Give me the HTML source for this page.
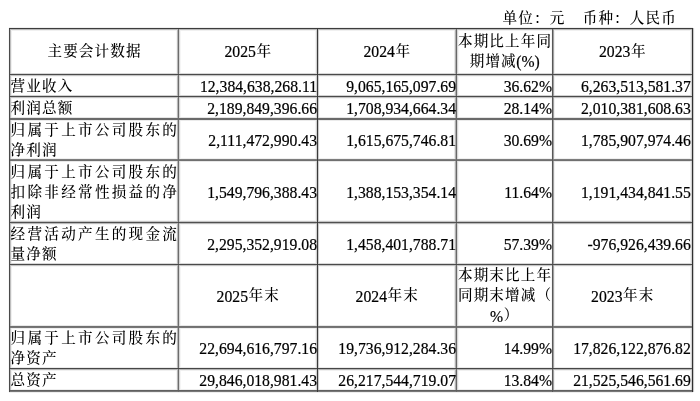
<!DOCTYPE html>
<html lang="zh-CN"><head><meta charset="utf-8"><title>主要会计数据</title>
<style>
html,body{margin:0;padding:0;background:#fff;}
body{width:700px;height:401px;overflow:hidden;position:relative;
 font-family:"Liberation Serif","Noto Serif CJK SC",serif;font-size:15.7px;color:#000;font-weight:500;}
.c{position:absolute;display:flex;flex-direction:column;justify-content:center;}
.c div{line-height:20px;white-space:nowrap;}
.l div{text-align:left;}
.l div.j{text-align:justify;text-align-last:justify;}
.r div{text-align:right;}
.m div{text-align:center;}
.lines i{position:absolute;display:block;mix-blend-mode:darken;}
.k{position:relative;top:-1.2px;font-size:14.6px;letter-spacing:1.1px;padding-left:0.55px;margin-right:-0.55px;}
.n{font-size:15.7px;-webkit-text-stroke:0.2px #000;}
.unit{position:absolute;top:9.6px;left:502px;line-height:20px;white-space:nowrap;}
</style></head><body>
<div class="unit"><span class="k">单位：元</span><span style="display:inline-block;width:17.4px"></span><span class="k">币种：人民币</span></div>
<div class="lines"><i style="left:9px;top:27px;width:684px;height:1px;background:#f0f0f0"></i><i style="left:9px;top:28px;width:684px;height:1px;background:#3c3c3c"></i><i style="left:9px;top:29px;width:684px;height:1px;background:#b8b8b8"></i><i style="left:9px;top:30px;width:684px;height:1px;background:#f0f0f0"></i><i style="left:9px;top:73px;width:684px;height:1px;background:#d8d8d8"></i><i style="left:9px;top:74px;width:684px;height:1px;background:#4a4a4a"></i><i style="left:9px;top:75px;width:684px;height:1px;background:#c4c4c4"></i><i style="left:9px;top:76px;width:684px;height:1px;background:#f5f5f5"></i><i style="left:9px;top:95px;width:684px;height:1px;background:#d2d2d2"></i><i style="left:9px;top:96px;width:684px;height:1px;background:#4a4a4a"></i><i style="left:9px;top:97px;width:684px;height:1px;background:#c4c4c4"></i><i style="left:9px;top:98px;width:684px;height:1px;background:#f5f5f5"></i><i style="left:9px;top:117px;width:684px;height:1px;background:#e6e6e6"></i><i style="left:9px;top:118px;width:684px;height:1px;background:#6a6a6a"></i><i style="left:9px;top:119px;width:684px;height:1px;background:#6a6a6a"></i><i style="left:9px;top:120px;width:684px;height:1px;background:#ebebeb"></i><i style="left:9px;top:158px;width:684px;height:1px;background:#f0f0f0"></i><i style="left:9px;top:159px;width:684px;height:1px;background:#7d7d7d"></i><i style="left:9px;top:160px;width:684px;height:1px;background:#707070"></i><i style="left:9px;top:161px;width:684px;height:1px;background:#e8e8e8"></i><i style="left:9px;top:220px;width:684px;height:1px;background:#f4f4f4"></i><i style="left:9px;top:221px;width:684px;height:1px;background:#c3c3c3"></i><i style="left:9px;top:222px;width:684px;height:1px;background:#505050"></i><i style="left:9px;top:223px;width:684px;height:1px;background:#b9b9b9"></i><i style="left:9px;top:224px;width:684px;height:1px;background:#f5f5f5"></i><i style="left:9px;top:263px;width:684px;height:1px;background:#d8d8d8"></i><i style="left:9px;top:264px;width:684px;height:1px;background:#4a4a4a"></i><i style="left:9px;top:265px;width:684px;height:1px;background:#c4c4c4"></i><i style="left:9px;top:266px;width:684px;height:1px;background:#f5f5f5"></i><i style="left:9px;top:325px;width:684px;height:1px;background:#e8e8e8"></i><i style="left:9px;top:326px;width:684px;height:1px;background:#707070"></i><i style="left:9px;top:327px;width:684px;height:1px;background:#767676"></i><i style="left:9px;top:328px;width:684px;height:1px;background:#eeeeee"></i><i style="left:9px;top:367px;width:684px;height:1px;background:#ebebeb"></i><i style="left:9px;top:368px;width:684px;height:1px;background:#464646"></i><i style="left:9px;top:369px;width:684px;height:1px;background:#b4b4b4"></i><i style="left:9px;top:370px;width:684px;height:1px;background:#f0f0f0"></i><i style="left:9px;top:389px;width:684px;height:1px;background:#eeeeee"></i><i style="left:9px;top:390px;width:684px;height:1px;background:#606060"></i><i style="left:9px;top:391px;width:684px;height:1px;background:#787878"></i><i style="left:9px;top:392px;width:684px;height:1px;background:#eeeeee"></i><i style="left:8px;top:28px;width:1px;height:364px;background:#f8f8f8"></i><i style="left:9px;top:28px;width:1px;height:364px;background:#4a4a4a"></i><i style="left:10px;top:28px;width:1px;height:364px;background:#bebebe"></i><i style="left:11px;top:28px;width:1px;height:364px;background:#f0f0f0"></i><i style="left:176px;top:28px;width:1px;height:364px;background:#f5f5f5"></i><i style="left:177px;top:28px;width:1px;height:364px;background:#b8b8b8"></i><i style="left:178px;top:28px;width:1px;height:364px;background:#6c6c6c"></i><i style="left:179px;top:28px;width:1px;height:364px;background:#d8d8d8"></i><i style="left:180px;top:28px;width:1px;height:364px;background:#f5f5f5"></i><i style="left:315px;top:28px;width:1px;height:364px;background:#f4f4f4"></i><i style="left:316px;top:28px;width:1px;height:364px;background:#d2d2d2"></i><i style="left:317px;top:28px;width:1px;height:364px;background:#3a3a3a"></i><i style="left:318px;top:28px;width:1px;height:364px;background:#cdcdcd"></i><i style="left:319px;top:28px;width:1px;height:364px;background:#fcfcfc"></i><i style="left:454px;top:28px;width:1px;height:364px;background:#e8e8e8"></i><i style="left:455px;top:28px;width:1px;height:364px;background:#b0b0b0"></i><i style="left:456px;top:28px;width:1px;height:364px;background:#686868"></i><i style="left:457px;top:28px;width:1px;height:364px;background:#d8d8d8"></i><i style="left:458px;top:28px;width:1px;height:364px;background:#f5f5f5"></i><i style="left:551px;top:28px;width:1px;height:364px;background:#f5f5f5"></i><i style="left:552px;top:28px;width:1px;height:364px;background:#585858"></i><i style="left:553px;top:28px;width:1px;height:364px;background:#a0a0a0"></i><i style="left:554px;top:28px;width:1px;height:364px;background:#f0f0f0"></i><i style="left:690px;top:28px;width:1px;height:364px;background:#f0f0f0"></i><i style="left:691px;top:28px;width:1px;height:364px;background:#d2d2d2"></i><i style="left:692px;top:28px;width:1px;height:364px;background:#303030"></i><i style="left:693px;top:28px;width:1px;height:364px;background:#c8c8c8"></i><i style="left:694px;top:28px;width:1px;height:364px;background:#fafafa"></i></div>
<div class="c m" style="left:10px;top:29.9px;width:168px;height:45px"><div><span class="k">主要会计数据</span></div></div>
<div class="c m" style="left:179px;top:29.9px;width:138px;height:45px"><div><span class="n">2025</span><span class="k">年</span></div></div>
<div class="c m" style="left:318px;top:29.9px;width:138px;height:45px"><div><span class="n">2024</span><span class="k">年</span></div></div>
<div class="c m" style="left:457px;top:29.9px;width:95px;height:45px"><div><span class="k">本期比上年同</span></div><div><span class="k">期增减</span><span class="n">(%)</span></div></div>
<div class="c m" style="left:553px;top:29.9px;width:139px;height:45px"><div><span class="n">2023</span><span class="k">年</span></div></div>
<div class="c l" style="left:10px;top:76.2px;width:167.5px;height:21px"><div><span class="k">营业收入</span></div></div>
<div class="c r" style="left:179px;top:76.2px;width:138px;height:21px"><div><span class="n">12,384,638,268.11</span></div></div>
<div class="c r" style="left:318px;top:76.2px;width:138px;height:21px"><div><span class="n">9,065,165,097.69</span></div></div>
<div class="c r" style="left:457px;top:76.2px;width:95px;height:21px"><div><span class="n">36.62%</span></div></div>
<div class="c r" style="left:553px;top:76.2px;width:137.8px;height:21px"><div><span class="n">6,263,513,581.37</span></div></div>
<div class="c l" style="left:10px;top:98.2px;width:167.5px;height:21.5px"><div><span class="k">利润总额</span></div></div>
<div class="c r" style="left:179px;top:98.2px;width:138px;height:21.5px"><div><span class="n">2,189,849,396.66</span></div></div>
<div class="c r" style="left:318px;top:98.2px;width:138px;height:21.5px"><div><span class="n">1,708,934,664.34</span></div></div>
<div class="c r" style="left:457px;top:98.2px;width:95px;height:21.5px"><div><span class="n">28.14%</span></div></div>
<div class="c r" style="left:553px;top:98.2px;width:137.8px;height:21.5px"><div><span class="n">2,010,381,608.63</span></div></div>
<div class="c l" style="left:10px;top:120.7px;width:167.5px;height:40.5px"><div class="j"><span class="k">归属于上市公司股东的</span></div><div><span class="k">净利润</span></div></div>
<div class="c r" style="left:179px;top:120.7px;width:138px;height:40.5px"><div><span class="n">2,111,472,990.43</span></div></div>
<div class="c r" style="left:318px;top:120.7px;width:138px;height:40.5px"><div><span class="n">1,615,675,746.81</span></div></div>
<div class="c r" style="left:457px;top:120.7px;width:95px;height:40.5px"><div><span class="n">30.69%</span></div></div>
<div class="c r" style="left:553px;top:120.7px;width:137.8px;height:40.5px"><div><span class="n">1,785,907,974.46</span></div></div>
<div class="c l" style="left:10px;top:162.2px;width:167.5px;height:61px"><div class="j"><span class="k">归属于上市公司股东的</span></div><div class="j"><span class="k">扣除非经常性损益的净</span></div><div><span class="k">利润</span></div></div>
<div class="c r" style="left:179px;top:162.2px;width:138px;height:61px"><div><span class="n">1,549,796,388.43</span></div></div>
<div class="c r" style="left:318px;top:162.2px;width:138px;height:61px"><div><span class="n">1,388,153,354.14</span></div></div>
<div class="c r" style="left:457px;top:162.2px;width:95px;height:61px"><div><span class="n">11.64%</span></div></div>
<div class="c r" style="left:553px;top:162.2px;width:137.8px;height:61px"><div><span class="n">1,191,434,841.55</span></div></div>
<div class="c l" style="left:10px;top:224.2px;width:167.5px;height:41px"><div class="j"><span class="k">经营活动产生的现金流</span></div><div><span class="k">量净额</span></div></div>
<div class="c r" style="left:179px;top:224.2px;width:138px;height:41px"><div><span class="n">2,295,352,919.08</span></div></div>
<div class="c r" style="left:318px;top:224.2px;width:138px;height:41px"><div><span class="n">1,458,401,788.71</span></div></div>
<div class="c r" style="left:457px;top:224.2px;width:95px;height:41px"><div><span class="n">57.39%</span></div></div>
<div class="c r" style="left:553px;top:224.2px;width:137.8px;height:41px"><div><span class="n">-976,926,439.66</span></div></div>
<div class="c m" style="left:179px;top:265.9px;width:138px;height:61.5px"><div><span class="n">2025</span><span class="k">年末</span></div></div>
<div class="c m" style="left:318px;top:265.9px;width:138px;height:61.5px"><div><span class="n">2024</span><span class="k">年末</span></div></div>
<div class="c m" style="left:457px;top:265.9px;width:95px;height:61.5px"><div><span class="k">本期末比上年</span></div><div><span class="k">同期末增减（</span></div><div><span class="n">%</span><span class="k">）</span></div></div>
<div class="c m" style="left:553px;top:265.9px;width:139px;height:61.5px"><div><span class="n">2023</span><span class="k">年末</span></div></div>
<div class="c l" style="left:10px;top:328.7px;width:167.5px;height:41.0px"><div class="j"><span class="k">归属于上市公司股东的</span></div><div><span class="k">净资产</span></div></div>
<div class="c r" style="left:179px;top:328.7px;width:138px;height:41.0px"><div><span class="n">22,694,616,797.16</span></div></div>
<div class="c r" style="left:318px;top:328.7px;width:138px;height:41.0px"><div><span class="n">19,736,912,284.36</span></div></div>
<div class="c r" style="left:457px;top:328.7px;width:95px;height:41.0px"><div><span class="n">14.99%</span></div></div>
<div class="c r" style="left:553px;top:328.7px;width:137.8px;height:41.0px"><div><span class="n">17,826,122,876.82</span></div></div>
<div class="c l" style="left:10px;top:370.7px;width:167.5px;height:21.0px"><div><span class="k">总资产</span></div></div>
<div class="c r" style="left:179px;top:370.7px;width:138px;height:21.0px"><div><span class="n">29,846,018,981.43</span></div></div>
<div class="c r" style="left:318px;top:370.7px;width:138px;height:21.0px"><div><span class="n">26,217,544,719.07</span></div></div>
<div class="c r" style="left:457px;top:370.7px;width:95px;height:21.0px"><div><span class="n">13.84%</span></div></div>
<div class="c r" style="left:553px;top:370.7px;width:137.8px;height:21.0px"><div><span class="n">21,525,546,561.69</span></div></div>
</body></html>
